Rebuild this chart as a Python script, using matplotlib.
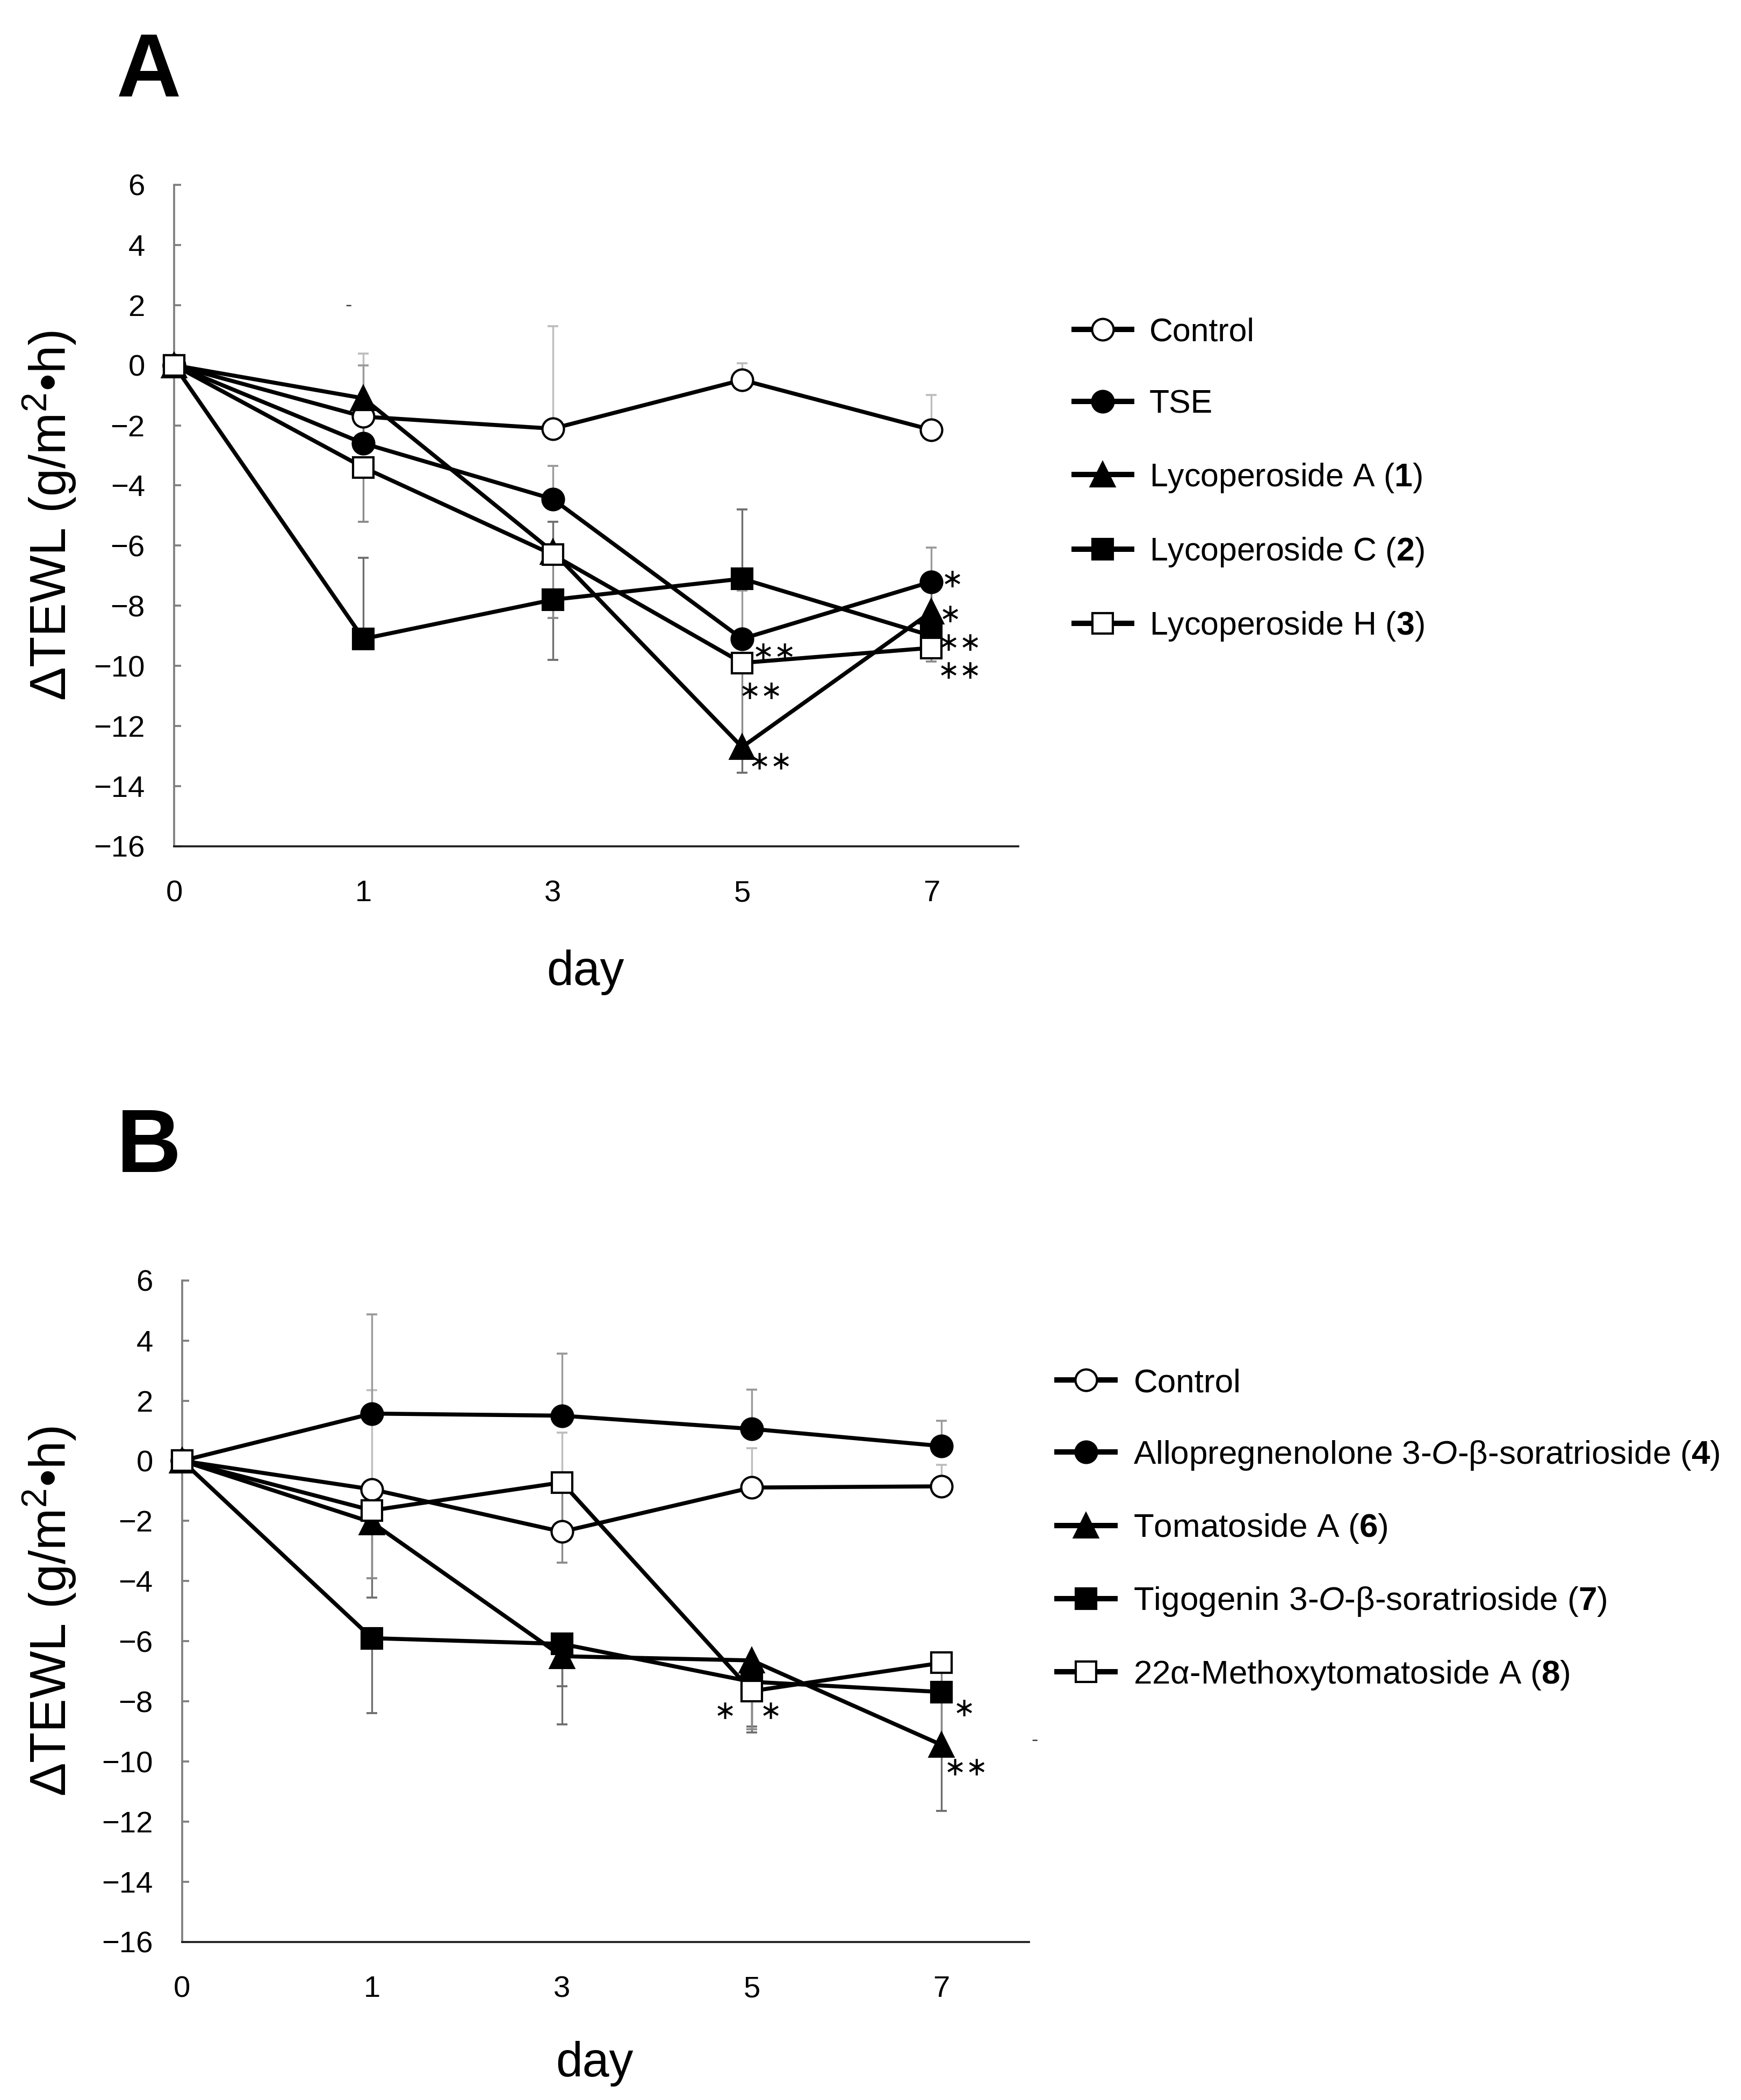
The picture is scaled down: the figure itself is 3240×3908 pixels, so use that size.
import matplotlib
matplotlib.use("Agg")
import matplotlib.pyplot as plt
from matplotlib.lines import Line2D
import numpy as np

plt.rcParams['font.family'] = ['Liberation Sans', 'DejaVu Sans']
plt.rcParams['mathtext.fontset'] = 'custom'
plt.rcParams['mathtext.rm'] = 'Liberation Sans'
plt.rcParams['mathtext.it'] = 'Liberation Sans:italic'
plt.rcParams['mathtext.bf'] = 'Liberation Sans:bold'

days = ["0", "1", "3", "5", "7"]

# ---- panel A : values and one-sided error bars (lower, upper)
control_a = [0, -1.71, -2.11, -0.49, -2.15]
control_a_lo = [0, 0, 0, 0, 0]
control_a_hi = [0, 2.1, 3.4, 0.55, 1.16]

tse_a = [0, -2.6, -4.45, -9.1, -7.2]
tse_a_lo = [0, 0, 0, 0, 0]
tse_a_hi = [0, 2.6, 1.1, 1.6, 1.14]

lycA = [0, -1.1, -6.2, -12.7, -8.2]
lycA_lo = [0, 1.25, 0, 0.85, 0]
lycA_hi = [0, 0, 1.0, 0, 0.8]

lycC = [0, -9.1, -7.8, -7.1, -9.0]
lycC_lo = [0, 0, 2.0, 0, 0.35]
lycC_hi = [0, 2.7, 0, 2.3, 0]

lycH = [0, -3.4, -6.3, -9.9, -9.4]
lycH_lo = [0, 1.8, 2.1, 2.7, 0.45]
lycH_hi = [0, 0, 0, 0, 0]

labels_a = ["Control", "TSE", r"Lycoperoside A ($\mathbf{1}$)",
            r"Lycoperoside C ($\mathbf{2}$)", r"Lycoperoside H ($\mathbf{3}$)"]

# ---- panel B
control_b = [0, -0.95, -2.36, -0.89, -0.85]
control_b_lo = [0, 0, 0, 0, 0]
control_b_hi = [0, 3.3, 3.3, 1.3, 0.72]

allo = [0, 1.57, 1.5, 1.06, 0.49]
allo_lo = [0, 0, 0, 0, 0]
allo_hi = [0, 3.3, 2.06, 1.3, 0.84]

toma = [0, -2.05, -6.5, -6.64, -9.45]
toma_lo = [0, 2.5, 1.0, 2.4, 2.2]
toma_hi = [0, 0, 0, 0, 0]

tigo = [0, -5.9, -6.09, -7.35, -7.69]
tigo_lo = [0, 2.5, 2.68, 1.48, 1.8]
tigo_hi = [0, 0, 0, 0, 0]

meth = [0, -1.65, -0.72, -7.66, -6.72]
meth_lo = [0, 2.25, 2.67, 1.26, 2.8]
meth_hi = [0, 0, 0, 0, 0]

labels_b = ["Control", r"Allopregnenolone 3-$\mathit{O}$-β-soratrioside ($\mathbf{4}$)",
            r"Tomatoside A ($\mathbf{6}$)",
            r"Tigogenin 3-$\mathit{O}$-β-soratrioside ($\mathbf{7}$)",
            r"22α-Methoxytomatoside A ($\mathbf{8}$)"]

# significance marks: (x position in category units, y, text)
stars_a = [(3.17, -9.55, "∗∗"), (3.10, -10.85, "∗∗"), (3.15, -13.2, "∗∗"),
           (4.11, -7.13, "∗"), (4.10, -8.29, "∗"), (4.15, -9.71, "∗∗\n∗∗")]
stars_b = [(2.86, -8.33, "∗"), (3.10, -8.33, "∗"), (4.12, -8.24, "∗"), (4.13, -10.22, "∗∗")]

styles = [("o", "white", "#bdbdbd"), ("o", "black", "#9a9a9a"), ("^", "black", "#6e6e6e"),
          ("s", "black", "#6e6e6e"), ("s", "white", "#8a8a8a")]
msizes = {"o": 9.6, "^": 10.5, "s": 9.0}


def draw_panel(ax, series, labels, stars, legend_xy, legend_fs, legend_sp, ylab_x, xlab_y):
    x = np.arange(len(days))
    handles = []
    for (vals, lo, hi), (mk, face, ec), lab in zip(series, styles, labels):
        vals = np.array(vals); lo = np.array(lo); hi = np.array(hi)
        # error bars (one-sided)
        ax.vlines(x, vals - lo, vals + hi, colors=ec, lw=0.8, zorder=2, clip_on=False)
        m_hi = hi > 0
        m_lo = lo > 0
        ax.plot(x[m_hi], (vals + hi)[m_hi], ls='none', marker='_', ms=5, mew=0.9, color=ec, zorder=2, clip_on=False)
        ax.plot(x[m_lo], (vals - lo)[m_lo], ls='none', marker='_', ms=5, mew=0.9, color=ec, zorder=2, clip_on=False)
        ax.plot(x, vals, color='black', lw=1.8, zorder=3, clip_on=False)
        ax.plot(x, vals, ls='none', marker=mk, ms=msizes[mk], mfc=face, mec='black', mew=1.0,
                zorder=4, clip_on=False)
        handles.append(Line2D([], [], color='black', lw=2.4, marker=mk, ms=msizes[mk],
                              mfc=face, mec='black', mew=1.0))

    for sx, sy, txt in stars:
        ax.text(sx, sy, txt, fontsize=11.8, family='DejaVu Sans', ha='center', va='center',
                linespacing=1.12, zorder=5)

    ax.set_xlim(0, 4.46)
    ax.set_ylim(-16, 6)
    ax.set_xticks(x, days)
    ax.set_yticks(range(-16, 7, 2))
    for side in ("top", "right"):
        ax.spines[side].set_visible(False)
    ax.spines["left"].set_color("#808080")
    ax.spines["left"].set_linewidth(0.9)
    ax.spines["bottom"].set_color("#202020")
    ax.spines["bottom"].set_linewidth(0.9)
    ax.tick_params(axis='y', direction='in', length=3.2, width=0.9, color='#808080', pad=13, labelsize=13.5)
    ax.tick_params(axis='x', length=0, pad=15, labelsize=13.5)

    ax.set_ylabel("ΔTEWL (g/m$^2$•h)", fontsize=22.5)
    ax.yaxis.set_label_coords(ylab_x, 0.5)
    ax.set_xlabel("day", fontsize=21.5)
    ax.xaxis.set_label_coords(0.487, xlab_y)

    ax.legend(handles, labels, loc='upper left', bbox_to_anchor=legend_xy,
              bbox_transform=ax.figure.transFigure, frameon=False, fontsize=legend_fs,
              labelspacing=legend_sp, handlelength=1.75, handletextpad=0.55,
              borderaxespad=0, borderpad=0)


fig = plt.figure(figsize=(10.8, 13.0267), dpi=300)
ax_a = fig.add_axes([0.100, 0.597, 0.485, 0.315])
ax_b = fig.add_axes([0.1046, 0.0753, 0.4864, 0.315])

draw_panel(ax_a, [(control_a, control_a_lo, control_a_hi), (tse_a, tse_a_lo, tse_a_hi),
                  (lycA, lycA_lo, lycA_hi), (lycC, lycC_lo, lycC_hi), (lycH, lycH_lo, lycH_hi)],
           labels_a, stars_a, (0.617, 0.849), 14.6, 1.27, -0.114, -0.156)
draw_panel(ax_b, [(control_b, control_b_lo, control_b_hi), (allo, allo_lo, allo_hi),
                  (toma, toma_lo, toma_hi), (tigo, tigo_lo, tigo_hi), (meth, meth_lo, meth_hi)],
           labels_b, stars_b, (0.607, 0.3485), 14.9, 1.21, -0.123, -0.150)

# small stray marks present in the original figure
ax_a.text(0.92, 1.97, "-", fontsize=9, color='#404040', ha='center', va='center')
ax_b.text(4.49, -9.3, "-", fontsize=9, color='#404040', ha='center', va='center', clip_on=False)

fig.text(0.0854, 0.965, "A", fontsize=40, fontweight='bold', ha='center', va='center')
fig.text(0.0854, 0.453, "B", fontsize=40, fontweight='bold', ha='center', va='center')

fig.savefig("out.png", dpi=300)
